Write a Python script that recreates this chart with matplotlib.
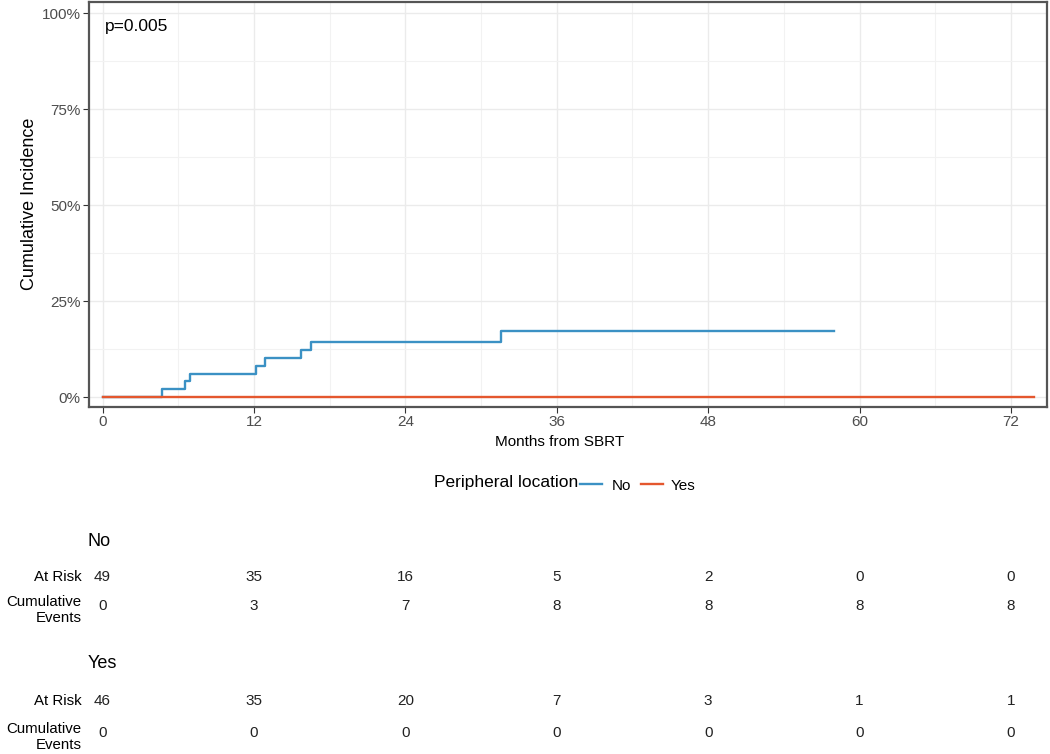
import numpy as np
import matplotlib.pyplot as plt
from matplotlib.lines import Line2D

plt.rcParams['font.family'] = ['Liberation Sans', 'DejaVu Sans']

# Cumulative incidence step data (months, fraction)
no_times = [0, 4.7, 6.5, 6.9, 12.2, 12.9, 15.7, 16.5, 31.6, 58.0]
no_cuminc = [0, 0.0204, 0.0408, 0.0612, 0.0816, 0.102, 0.1224, 0.1429, 0.1714, 0.1714]
yes_times = [0, 73.8]
yes_cuminc = [0, 0]

# Risk table
table_times = [0, 12, 24, 36, 48, 60, 72]
no_at_risk = [49, 35, 16, 5, 2, 0, 0]
no_events = [0, 3, 7, 8, 8, 8, 8]
yes_at_risk = [46, 35, 20, 7, 3, 1, 1]
yes_events = [0, 0, 0, 0, 0, 0, 0]

blue = '#3B91C4'
orange = '#E4572E'

fig = plt.figure(figsize=(10.5, 7.54), dpi=100)

# pixel scale shared by plot and table: 0 -> 102.5px, 72 -> 1011px
x0_px = 102.5
px_per = (1011 - x0_px) / 72

# main plot
ax_l, ax_r = 89, 1047
ax = fig.add_axes([ax_l / 1050, 1 - 407 / 754, (ax_r - ax_l) / 1050, 405 / 754])
ax.step(no_times, no_cuminc, where='post', color=blue, lw=1.7)
ax.step(yes_times, yes_cuminc, where='post', color=orange, lw=1.7)
ax.set_xlim((ax_l - x0_px) / px_per, (ax_r - x0_px) / px_per)
ax.set_ylim(-0.026, 1.029)
ax.set_xticks(table_times)
ax.set_xticks(np.arange(6, 72, 12), minor=True)
ax.set_yticks([0, 0.25, 0.5, 0.75, 1.0])
ax.set_yticklabels(['0%', '25%', '50%', '75%', '100%'])
ax.set_yticks([0.125, 0.375, 0.625, 0.875], minor=True)
ax.grid(which='major', color='#ebebeb', lw=1.0)
ax.grid(which='minor', color='#f2f2f2', lw=0.8)
ax.set_axisbelow(True)
for s in ax.spines.values():
    s.set_color('#555555')
    s.set_linewidth(1.6)
ax.tick_params(which='major', length=4.5, pad=1.5, color='#333333', labelsize=11,
               labelcolor='#4d4d4d')
ax.tick_params(which='minor', length=0)
ax.text(0.2, 0.985, 'p=0.005', fontsize=12.5, va='top', ha='left')

fig.text(30 / 1050, 1 - 204 / 754, 'Cumulative Incidence', rotation=90,
         ha='center', va='center', fontsize=13)
fig.text(560 / 1050, 1 - 442 / 754, 'Months from SBRT', ha='center', va='center', fontsize=11)

# legend, drawn by hand in one row
ly = 1 - 484 / 754
fig.text(578 / 1050, ly + 0.002, 'Peripheral location', ha='right', va='center', fontsize=12.5)
fig.add_artist(Line2D([580 / 1050, 602 / 1050], [ly, ly], color=blue, lw=1.7))
fig.text(612 / 1050, ly - 0.002, 'No', ha='left', va='center', fontsize=11)
fig.add_artist(Line2D([641 / 1050, 663 / 1050], [ly, ly], color=orange, lw=1.7))
fig.text(671 / 1050, ly - 0.002, 'Yes', ha='left', va='center', fontsize=11)

# risk table
tab = fig.add_axes([0, 0, 1, 1 - 520 / 754])
tab.set_xlim(-x0_px / px_per, (1050 - x0_px) / px_per)
tab.set_ylim(754, 520)
tab.axis('off')

rows = [
    ('No', 541, 577, 606, no_at_risk, no_events),
    ('Yes', 664, 701, 733, yes_at_risk, yes_events),
]
lab_x = -21 / px_per
for name, gy, ry, ey, risk, ev in rows:
    tab.text(-15 / px_per, gy, name, fontsize=13, ha='left', va='center')
    tab.text(lab_x, ry, 'At Risk', fontsize=10.8, ha='right', va='center')
    tab.text(lab_x, ey + 4, 'Cumulative\nEvents', fontsize=10.8, ha='right', va='center',
             linespacing=1.2)
    for t, r, e in zip(table_times, risk, ev):
        tab.text(t, ry, str(r), fontsize=11, ha='center', va='center', color='#222222')
        tab.text(t, ey, str(e), fontsize=11, ha='center', va='center', color='#222222')

fig.savefig('out.png', dpi=100)
